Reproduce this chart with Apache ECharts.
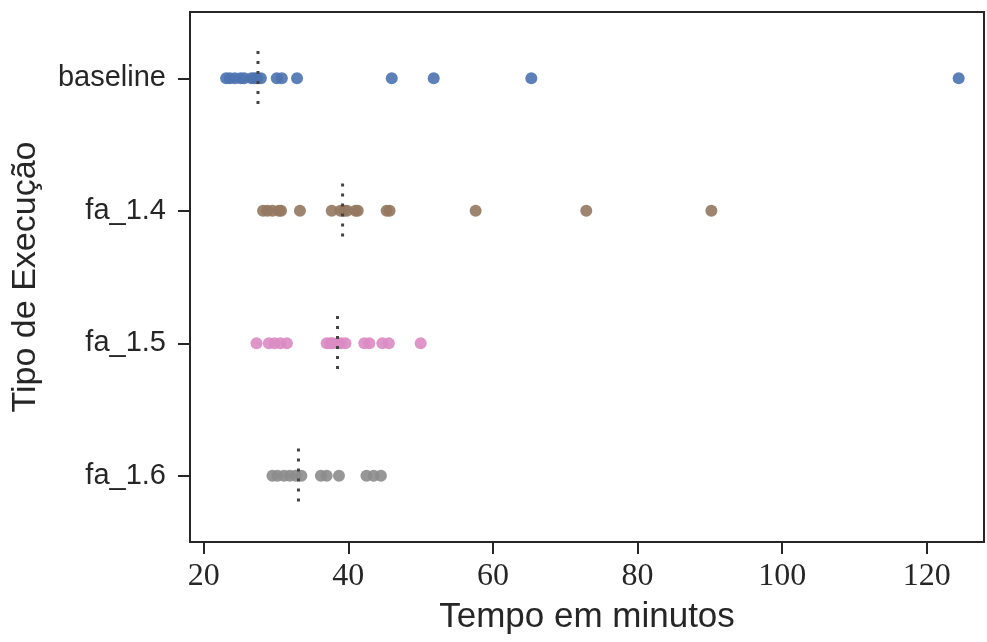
<!DOCTYPE html>
<html>
<head>
<meta charset="utf-8">
<script src="https://cdn.jsdelivr.net/npm/echarts@6/dist/echarts.min.js"></script>
<style>html,body{margin:0;padding:0;background:#fff;}#c{width:987px;height:642px;}</style>
</head>
<body>
<div id="c"></div>
<script>
const categories = ['baseline', 'fa_1.4', 'fa_1.5', 'fa_1.6'];
const baseline = [23.1, 23.6, 24.3, 25.1, 25.6, 26.6, 27.0, 27.4, 27.9, 30.1, 30.8, 32.9, 46.0, 51.8, 65.3, 124.4];
const fa14 = [28.2, 28.8, 29.5, 30.4, 30.7, 33.3, 37.7, 38.9, 39.4, 39.8, 41.0, 41.3, 45.3, 45.7, 57.6, 72.9, 90.2];
const fa15 = [27.3, 29.0, 29.8, 30.6, 31.5, 37.0, 37.5, 37.8, 38.5, 39.0, 39.6, 42.2, 42.9, 44.7, 45.6, 50.0];
const fa16 = [29.5, 30.2, 31.1, 31.9, 32.7, 33.5, 36.2, 37.0, 38.7, 42.5, 43.5, 44.5];
const medians = [27.5, 39.2, 38.5, 33.1];
const xTicks = [20, 40, 60, 80, 100, 120];
const colors = ['#4C72B0', '#937860', '#DA8BC3', '#8C8C8C'];

const groups = [baseline, fa14, fa15, fa16];
const chart = echarts.init(document.getElementById('c'), null, {renderer: 'canvas'});
const series = groups.map((vals, i) => ({
  type: 'scatter',
  name: categories[i],
  data: vals.map(v => [v, i]),
  symbolSize: 12,
  itemStyle: {color: colors[i], opacity: 0.9},
  emphasis: {disabled: true},
  z: 2
}));
series.push({
  type: 'custom',
  data: medians.map((m, i) => [m, i]),
  encode: {x: 0, y: 1},
  z: 3,
  renderItem: function (params, api) {
    const p = api.coord([api.value(0), api.value(1)]);
    const h = api.size([0, 1])[1];
    return {
      type: 'line',
      shape: {x1: p[0], y1: p[1] - 0.205 * h, x2: p[0], y2: p[1] + 0.205 * h},
      style: {stroke: '#444444', lineWidth: 3, lineDash: [3, 7], fill: null}
    };
  }
});
chart.setOption({
  animation: false,
  backgroundColor: '#ffffff',
  grid: {left: 190, right: 3, top: 12, bottom: 100, outerBoundsMode: 'none', containLabel: false, show: true, borderColor: '#262626', borderWidth: 2, backgroundColor: 'transparent'},
  xAxis: {
    type: 'value',
    min: 18.1,
    max: 127.9,
    name: 'Tempo em minutos',
    nameLocation: 'middle',
    nameGap: 58,
    nameTextStyle: {fontFamily: 'Liberation Sans', fontSize: 35, color: '#262626'},
    axisLine: {show: true, lineStyle: {color: '#262626', width: 2}},
    axisTick: {show: true, length: 12, lineStyle: {color: '#262626', width: 2}, customValues: xTicks},
    axisLabel: {customValues: xTicks, fontFamily: 'Liberation Serif', fontSize: 32, color: '#262626', margin: 19},
    splitLine: {show: false}
  },
  yAxis: {
    type: 'category',
    data: categories,
    inverse: true,
    name: 'Tipo de Execução',
    nameLocation: 'middle',
    nameGap: 147,
    nameTextStyle: {fontFamily: 'Liberation Sans', fontSize: 34, color: '#262626'},
    axisLine: {show: true, lineStyle: {color: '#262626', width: 2}},
    axisTick: {show: true, alignWithLabel: true, length: 12, lineStyle: {color: '#262626', width: 2}},
    axisLabel: {fontFamily: 'Liberation Sans', fontSize: 29, color: '#262626', margin: 24},
    splitLine: {show: false}
  },
  series: series
});
</script>
</body>
</html>
